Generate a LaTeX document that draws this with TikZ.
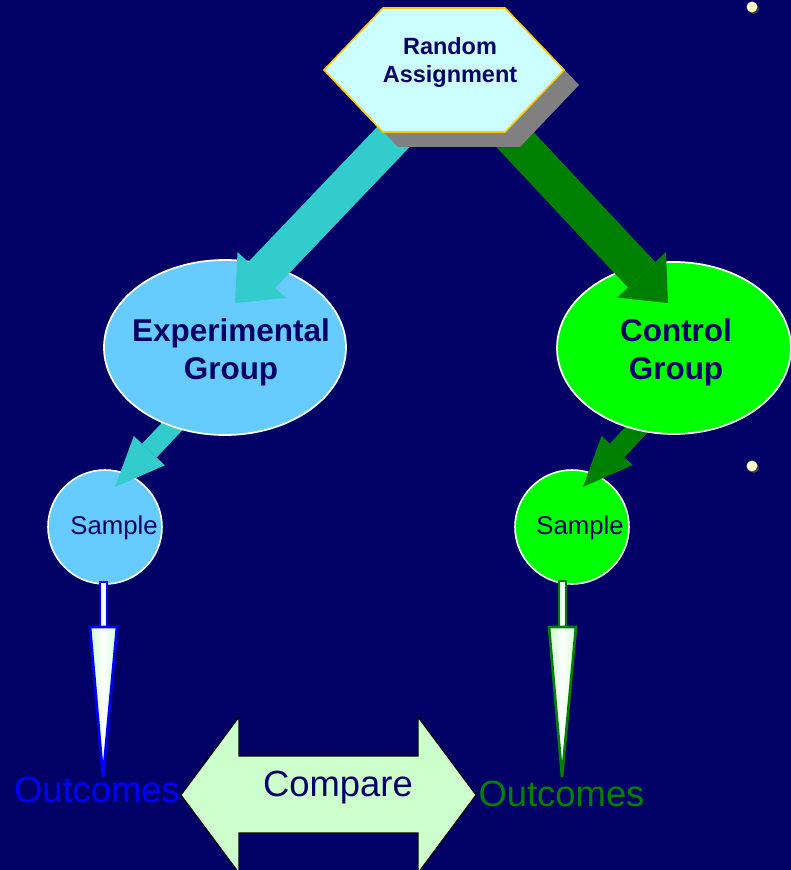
\documentclass[tikz,border=0pt]{standalone}
\usepackage{fontspec}
\setmainfont{Liberation Sans}
\usetikzlibrary{arrows.meta,calc,shapes.geometric}

\definecolor{navy}{HTML}{000066}
\definecolor{tealc}{HTML}{33CCCC}
\definecolor{dgreen}{HTML}{008000}
\definecolor{expc}{HTML}{66CCFF}
\definecolor{ctlc}{HTML}{00FF00}
\definecolor{hexc}{HTML}{CCFFFF}
\definecolor{hexline}{HTML}{FFCC00}
\definecolor{shadowc}{HTML}{808080}
\definecolor{paleg}{HTML}{CCFFCC}
\definecolor{dotc}{HTML}{FFFFCC}
\definecolor{pureblue}{HTML}{0000FF}

\pgfdeclarelayer{bglayer}
\pgfdeclarelayer{lower}
\pgfdeclarelayer{top}
\pgfsetlayers{bglayer,lower,main,top}

\begin{document}
\begin{tikzpicture}[x=0.75pt,y=-0.75pt,
  grp/.style={ellipse, draw=white, line width=1.3pt, inner sep=0pt},
  grptext/.style={font=\fontsize{23.6}{28.5}\selectfont\bfseries, text=navy, align=center, inner sep=0pt},
  samp/.style={circle, draw=white, line width=1.2pt, minimum size=85.5pt, inner sep=0pt},
  smptext/.style={font=\fontsize{19.3}{23}\selectfont, text=navy, inner sep=0pt},
  bigarr/.style={line width=28pt, -{Triangle[width=50pt,length=29pt,line width=0pt]}},
  smallarr/.style={line width=15pt, -{Triangle[width=32pt,length=37.5pt,line width=0pt]}},
  thinarr/.style={line width=2pt, left color=paleg, right color=paleg, middle color=white},
  outtext/.style={font=\fontsize{27.3}{32}\selectfont, inner sep=0pt},
  cmp/.style={draw=black, line width=0.8pt, fill=paleg},
  dotmark/.style={circle, inner sep=0pt, minimum size=8.2pt}
]
\useasboundingbox (0,0) rectangle (791,870);

% backdrop and bullet dots
\begin{pgfonlayer}{bglayer}
  \fill[navy] (0,0) rectangle (791,870);
  \node[dotmark, fill=black!75] (b1s) at (753.5,8.5) {};
  \node[dotmark, fill=dotc] (b1) at (752,7) {};
  \node[dotmark, fill=black!75] (b2s) at (753.5,467.5) {};
  \node[dotmark, fill=dotc] (b2) at (752,466) {};
\end{pgfonlayer}

% sample circles
\begin{pgfonlayer}{lower}
  \node[samp, fill=expc] (sL) at (105,527) {};
  \node[samp, fill=ctlc] (sR) at (572,527) {};
\end{pgfonlayer}

% group ellipses
\node[grp, fill=expc, minimum width=181.5pt, minimum height=131.25pt] (exp) at (225,347.5) {};
\node[grp, fill=ctlc, minimum width=175.5pt, minimum height=129pt] (ctl) at (674,348) {};
\node[grptext] (expT) at (231,352) {Experimental\\Group};
\node[grptext] (ctlT) at (676,352) {Control\\Group};

% hexagon with its shadow
\begin{pgfonlayer}{top}
  \begin{scope}[shift={(444,70)}]
    \fill[shadowc] (-46,-47) -- (76,-47) -- (135,15) -- (76,77) -- (-46,77) -- (-105,15) -- cycle;
    \draw[hexline, line width=1.2pt, fill=hexc] (-61,-62) -- (61,-62) -- (120,0) -- (61,62) -- (-61,62) -- (-120,0) -- cycle;
  \end{scope}
  \node[font=\fontsize{17.6}{21}\selectfont\bfseries, text=navy, align=center, inner sep=0pt]
    (ra) at (450,62.5) {Random\\Assignment};
\end{pgfonlayer}

% assignment arrows
\draw[bigarr, tealc] ($(ra)+(-50,67.5)$) -- ($(exp)+(10,-44.5)$);
\draw[bigarr, dgreen] ($(ra)+(56,67.5)$) -- ($(ctl)+(-6,-45)$);

% group to sample arrows
\begin{pgfonlayer}{lower}
  \draw[smallarr, tealc] ($(exp)+(-25,49.5)$) -- ($(sL)+(10,-40)$);
  \draw[smallarr, dgreen] ($(ctl)+(-6,48)$) -- ($(sR)+(11,-40)$);
\end{pgfonlayer}

\node[smptext] (sLT) at (114,527.5) {Sample};
\node[smptext] (sRT) at (580,527.5) {Sample};

% outcomes
\node[outtext, text=pureblue] (outL) at (97,790) {Outcomes};
\node[outtext, text=dgreen] (outR) at (561.5,794) {Outcomes};

% sample to outcome arrows
\draw[thinarr, draw=pureblue] ($(sL)+(-5,55)$) rectangle ($(sL)+(2,101)$);
\draw[thinarr, draw=pureblue] ($(sL)+(-15,100)$) -- ($(sL)+(12,100)$) -- ($(outL)+(6,-13)$) -- cycle;
\draw[thinarr, draw=dgreen] ($(sR)+(-13,54)$) rectangle ($(sR)+(-6,101)$);
\draw[thinarr, draw=dgreen] ($(sR)+(-23,100)$) -- ($(sR)+(4,100)$) -- ($(outR)+(0.5,-17)$) -- cycle;

% compare double arrow
\coordinate (cmpL) at ($(outL)+(84,5)$);
\coordinate (cmpR) at ($(outR)+(-85.5,1)$);
\begin{scope}
  \clip (0,0) rectangle (791,870);
  \draw[cmp] (cmpL) -- ($(cmpL)+(58,-78)$) -- ($(cmpL)+(58,-39)$) -- ($(cmpR)+(-58,-39)$)
    -- ($(cmpR)+(-58,-78)$) -- (cmpR) -- ($(cmpR)+(-58,78)$) -- ($(cmpR)+(-58,38)$)
    -- ($(cmpL)+(58,38)$) -- ($(cmpL)+(58,78)$) -- cycle;
\end{scope}
\node[outtext, text=navy] (cmpT) at (338,788) {Compare};
\end{tikzpicture}
\end{document}
